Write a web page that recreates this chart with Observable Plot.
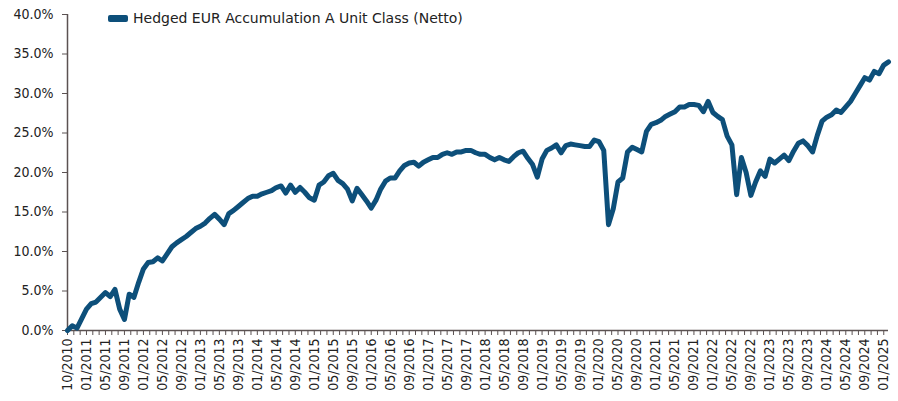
<!DOCTYPE html>
<html><head><meta charset="utf-8">
<script src="https://cdn.jsdelivr.net/npm/d3@7"></script>
<script src="https://cdn.jsdelivr.net/npm/@observablehq/plot@0.6"></script>
<style>
body{margin:0;background:#fff;}
#wrap{position:relative;width:898px;height:401px;font-family:"DejaVu Sans Condensed","DejaVu Sans",sans-serif;}
#legend{position:absolute;left:108px;top:10px;display:flex;align-items:center;font-family:"DejaVu Sans",sans-serif;font-size:14px;color:#222;white-space:nowrap;}
#legend .sw{display:inline-block;width:20px;height:7px;border-radius:2px;background:#0d4f7a;margin-right:5px;}
</style></head><body>
<div id="wrap"><div id="legend"><span class="sw"></span><span id="lgtext"></span></div></div>
<script>
const seriesName = "Hedged EUR Accumulation A Unit Class (Netto)";
// cumulative performance in %, inception (10/2010) then month ends 10/2010 .. 02/2025
const values = [
 0.0, 0.6, 0.3, 1.5, 2.7, 3.4, 3.6, 4.2, 4.8, 4.3,
 5.2, 2.7, 1.4, 4.6, 4.2, 6.1, 7.8, 8.6, 8.7, 9.2,
 8.8, 9.7, 10.6, 11.1, 11.5, 11.9, 12.4, 12.9, 13.2, 13.6,
 14.2, 14.7, 14.1, 13.4, 14.8, 15.2, 15.7, 16.2, 16.7, 17.0,
 17.0, 17.3, 17.5, 17.7, 18.1, 18.3, 17.4, 18.4, 17.5, 18.1,
 17.5, 16.8, 16.5, 18.4, 18.8, 19.6, 19.9, 19.0, 18.6, 17.9,
 16.4, 18.0, 17.2, 16.4, 15.5, 16.5, 17.9, 18.9, 19.3, 19.3,
 20.2, 20.9, 21.2, 21.3, 20.8, 21.3, 21.6, 21.9, 21.9, 22.3,
 22.5, 22.3, 22.6, 22.6, 22.8, 22.8, 22.5, 22.3, 22.3, 21.9,
 21.6, 21.9, 21.6, 21.4, 22.0, 22.5, 22.7, 21.8, 21.0, 19.4,
 21.7, 22.8, 23.1, 23.5, 22.5, 23.4, 23.6, 23.5, 23.4, 23.3,
 23.3, 24.1, 23.9, 22.8, 13.4, 15.4, 18.8, 19.3, 22.6, 23.2,
 22.9, 22.6, 25.2, 26.1, 26.3, 26.6, 27.1, 27.4, 27.7, 28.3,
 28.3, 28.6, 28.6, 28.5, 27.7, 29.0, 27.6, 27.1, 26.7, 24.6,
 23.5, 17.2, 21.9, 20.0, 17.1, 18.8, 20.2, 19.5, 21.7, 21.2,
 21.7, 22.2, 21.5, 22.7, 23.7, 24.0, 23.4, 22.6, 24.7, 26.5,
 27.0, 27.3, 27.9, 27.6, 28.3, 29.0, 30.0, 31.0, 32.0, 31.7,
 32.8, 32.5, 33.6, 34.0
];
const tickLabels = [
 "10/2010","01/2011","05/2011","09/2011","01/2012","05/2012","09/2012",
 "01/2013","05/2013","09/2013","01/2014","05/2014","09/2014",
 "01/2015","05/2015","09/2015","01/2016","05/2016","09/2016",
 "01/2017","05/2017","09/2017","01/2018","05/2018","09/2018",
 "01/2019","05/2019","09/2019","01/2020","05/2020","09/2020",
 "01/2021","05/2021","09/2021","01/2022","05/2022","09/2022",
 "01/2023","05/2023","09/2023","01/2024","05/2024","09/2024","01/2025"
];
const yTicks = [0, 5, 10, 15, 20, 25, 30, 35, 40];
const labelStep = 4;   // categories between labels
const tickStep = 4 / 3; // categories between tick marks

document.getElementById("lgtext").textContent = seriesName;

const data = values.map((v, i) => ({i, v}));
const labelPos = tickLabels.map((_, k) => k * labelStep);
const tickPos = d3.range(0, values.length - 1 + 1e-9, tickStep);
const axisColor = "#5b5252";
const font = '"DejaVu Sans Condensed","DejaVu Sans",sans-serif';

const chart = Plot.plot({
  width: 898, height: 401,
  marginLeft: 67, marginRight: 10, marginTop: 14, marginBottom: 71,
  style: {fontFamily: font, fontSize: "14px", color: "#222", background: "#fff"},
  x: {type: "linear", domain: [0, values.length - 1]},
  y: {domain: [0, 40]},
  marks: [
    Plot.axisY({ticks: yTicks, tickSize: 5, tickPadding: 9, stroke: axisColor, label: null,
      tickFormat: d => d.toFixed(1) + "%", fontSize: 14, fill: "#222"}),
    Plot.axisX({ticks: tickPos, tickSize: 5, stroke: axisColor, label: null, tickFormat: () => ""}),
    Plot.axisX({ticks: labelPos, tickSize: 0, tickPadding: 8, tickRotate: -90, label: null,
      tickFormat: d => tickLabels[Math.round(d / labelStep)], fontSize: 14, fill: "#222"}),
    Plot.ruleX([0], {stroke: axisColor, strokeWidth: 1.5}),
    Plot.ruleY([0], {stroke: axisColor, strokeWidth: 1.5}),
    Plot.line(data, {x: "i", y: "v", stroke: "#0d4f7a", strokeWidth: 5,
      strokeLinejoin: "round", strokeLinecap: "round"})
  ]
});
document.getElementById("wrap").appendChild(chart);
</script>
</body></html>
